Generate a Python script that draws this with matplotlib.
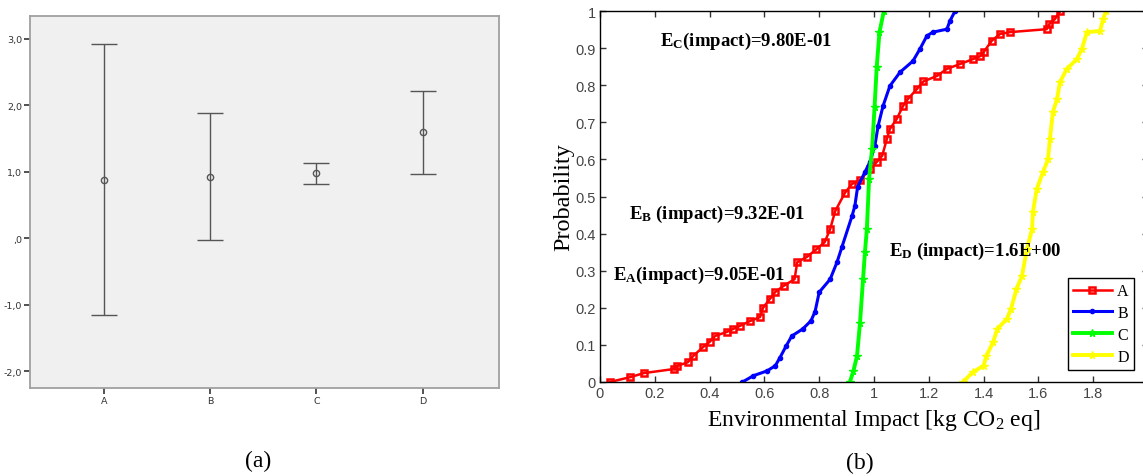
import matplotlib
matplotlib.use("Agg")
import matplotlib.pyplot as plt

plt.rcParams["mathtext.fontset"] = "custom"
plt.rcParams["mathtext.rm"] = "Liberation Serif"
plt.rcParams["mathtext.it"] = "Liberation Serif:italic"
plt.rcParams["mathtext.bf"] = "Liberation Serif:bold"

# ---- panel (a): mean with interval bars ----
groups = ["A", "B", "C", "D"]
means = [0.87, 0.92, 0.98, 1.60]
lower = [-1.15, -0.03, 0.82, 0.96]
upper = [2.92, 1.88, 1.13, 2.22]
a_yticks = [-2, -1, 0, 1, 2, 3]
a_yticklabels = ["-2,0", "-1,0", ",0", "1,0", "2,0", "3,0"]

# ---- panel (b): cumulative probability curves ----
a_x = [0.036, 0.11, 0.16, 0.27, 0.28, 0.32, 0.34, 0.376, 0.40, 0.42, 0.463, 0.486,
       0.51, 0.547, 0.584, 0.595, 0.62, 0.64, 0.67, 0.71, 0.72, 0.755, 0.79, 0.82,
       0.84, 0.858, 0.894, 0.92, 0.95, 0.985, 1.01, 1.03, 1.047, 1.058, 1.083,
       1.106, 1.124, 1.157, 1.18, 1.23, 1.266, 1.314, 1.36, 1.387, 1.40, 1.43,
       1.46, 1.496, 1.63, 1.64, 1.66, 1.68]
a_p = [0.0, 0.013, 0.024, 0.035, 0.043, 0.053, 0.07, 0.094, 0.108, 0.124, 0.135, 0.143,
       0.151, 0.164, 0.175, 0.20, 0.224, 0.243, 0.259, 0.277, 0.323, 0.337, 0.358, 0.377,
       0.412, 0.46, 0.51, 0.534, 0.545, 0.574, 0.593, 0.61, 0.655, 0.682, 0.709,
       0.744, 0.763, 0.79, 0.81, 0.825, 0.844, 0.857, 0.87, 0.878, 0.889, 0.92,
       0.938, 0.943, 0.951, 0.965, 0.978, 1.0]

b_x = [0.52, 0.56, 0.61, 0.64, 0.657, 0.68, 0.70, 0.74, 0.77, 0.785, 0.80, 0.84,
       0.865, 0.883, 0.92, 0.93, 0.94, 0.967, 0.985, 1.003, 1.015, 1.033, 1.058,
       1.095, 1.142, 1.168, 1.193, 1.215, 1.266, 1.277, 1.296]
b_p = [0.0, 0.017, 0.03, 0.044, 0.066, 0.098, 0.124, 0.143, 0.165, 0.19, 0.242, 0.277,
       0.323, 0.364, 0.448, 0.474, 0.525, 0.566, 0.593, 0.636, 0.69, 0.744, 0.798,
       0.835, 0.865, 0.898, 0.933, 0.943, 0.951, 0.973, 1.0]

c_x = [0.912, 0.925, 0.938, 0.949, 0.96, 0.967, 0.974, 0.982, 0.993, 1.002, 1.01,
       1.02, 1.036]
c_p = [0.0, 0.03, 0.07, 0.16, 0.277, 0.35, 0.412, 0.547, 0.628, 0.74, 0.85,
       0.943, 1.0]

d_x = [1.325, 1.36, 1.40, 1.41, 1.435, 1.45, 1.485, 1.50, 1.52, 1.54, 1.558, 1.577,
       1.58, 1.594, 1.617, 1.635, 1.642, 1.653, 1.668, 1.679, 1.704, 1.74, 1.759,
       1.777, 1.825, 1.836, 1.847]
d_p = [0.0, 0.026, 0.044, 0.07, 0.108, 0.143, 0.17, 0.197, 0.25, 0.286, 0.358, 0.412,
       0.458, 0.52, 0.566, 0.60, 0.655, 0.728, 0.763, 0.809, 0.844, 0.87, 0.898,
       0.943, 0.946, 0.978, 1.0]

notes = [
    (r"$\mathbf{E_C}$(impact)=9.80E-01", 0.22, 0.92),
    (r"$\mathbf{E_B}$ (impact)=9.32E-01", 0.106, 0.455),
    (r"$\mathbf{E_A}$(impact)=9.05E-01", 0.047, 0.29),
    (r"$\mathbf{E_D}$ (impact)=1.6E+00", 1.055, 0.355),
]

W, H = 1143, 477
fig = plt.figure(figsize=(W / 100, H / 100), dpi=100)

# panel (a)
ax1 = fig.add_axes([30 / W, 1 - 389 / H, 469 / W, 372 / H])
ax1.set_facecolor("#f0f0f0")
pos = list(range(len(groups)))
err = [[m - lo for m, lo in zip(means, lower)], [hi - m for m, hi in zip(means, upper)]]
ax1.errorbar(pos, means, yerr=err, fmt="o", mfc="none", mec="#555555", ms=4.5,
             mew=1.0, ecolor="#555555", elinewidth=1.0, capsize=9.7, capthick=1.0)
ax1.set_xlim(-0.7, 3.72)
ax1.set_ylim(-2.25, 3.34)
ax1.set_xticks(pos)
ax1.set_xticklabels(groups)
ax1.set_yticks(a_yticks)
ax1.set_yticklabels(a_yticklabels)
for s in ax1.spines.values():
    s.set_color("#a0a0a0")
    s.set_linewidth(1.3)
ax1.tick_params(axis="both", direction="out", length=4, width=1.2, color="#333333",
                labelsize=6.8, labelcolor="#333333", pad=1.5)
fig.text(258 / W, 1 - 461 / H, "(a)", ha="center", va="center",
         family="Liberation Serif", fontsize=17)

# panel (b)
ax2 = fig.add_axes([600 / W, 1 - 383 / H, 548 / W, 371 / H])
ax2.plot(a_x, a_p, color="red", marker="s", lw=1.8, ms=4.5, mfc="none", mew=1.8, label="A")
ax2.plot(b_x, b_p, color="blue", marker=".", lw=2.2, ms=6, label="B")
ax2.plot(c_x, c_p, color="#00ff00", marker="*", lw=2.8, ms=5.5, label="C")
ax2.plot(d_x, d_p, color="yellow", marker="*", lw=2.8, ms=5.5, label="D")
ax2.set_xlim(0, 2)
ax2.set_ylim(0, 1)
ax2.set_xticks([0, 0.2, 0.4, 0.6, 0.8, 1.0, 1.2, 1.4, 1.6, 1.8])
ax2.set_xticklabels(["0", "0.2", "0.4", "0.6", "0.8", "1", "1.2", "1.4", "1.6", "1.8"])
ax2.set_yticks([i / 10 for i in range(11)])
ax2.set_yticklabels(["0", "0.1", "0.2", "0.3", "0.4", "0.5", "0.6", "0.7", "0.8", "0.9", "1"])
ax2.tick_params(axis="both", direction="in", length=4, width=1.0, top=True, right=True,
                labelsize=10.5, labelcolor="#444444", color="#333333", pad=3)
for lbl in ax2.get_xticklabels() + ax2.get_yticklabels():
    lbl.set_family("Liberation Sans")
for s in ax2.spines.values():
    s.set_linewidth(1.0)
ax2.set_ylabel("Probability", family="Liberation Serif", fontsize=17.5, labelpad=1)
ax2.set_xlabel(r"Environmental Impact [kg CO$_2$ eq]", family="Liberation Serif",
               fontsize=17, labelpad=5)
for txt, x, y in notes:
    ax2.text(x, y, txt, family="Liberation Serif", fontweight="bold", fontsize=13.5,
             va="center", ha="left")
leg = ax2.legend(loc="lower right", bbox_to_anchor=(0.975, 0.032), borderaxespad=0,
                 prop={"family": "Liberation Serif", "size": 11.5}, frameon=True,
                 fancybox=False, edgecolor="black", framealpha=1, handlelength=2.4,
                 borderpad=0.35, labelspacing=0.36, handletextpad=0.35)
leg.get_frame().set_linewidth(1.0)
fig.text(860 / W, 1 - 463 / H, "(b)", ha="center", va="center",
         family="Liberation Serif", fontsize=17)

fig.savefig("out.png", dpi=100)
